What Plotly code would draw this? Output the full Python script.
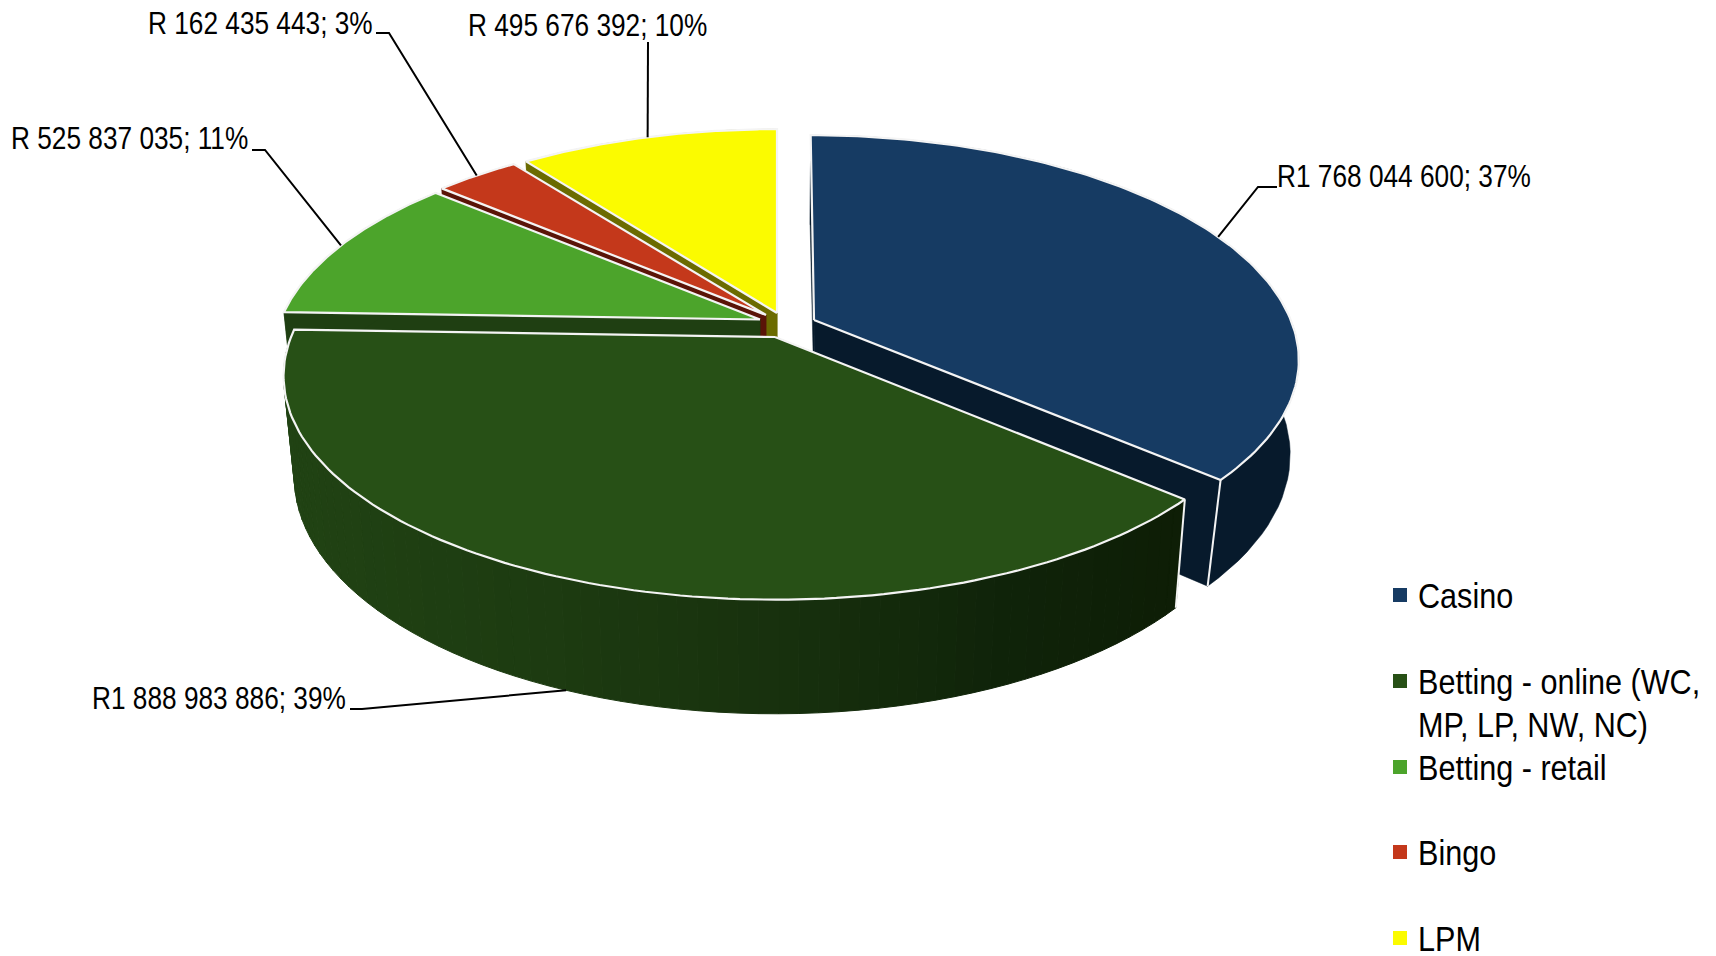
import numpy as np
import plotly.graph_objects as go

# ---- data ----
categories = ["Casino", "Betting - online (WC,<br>MP, LP, NW, NC)", "Betting - retail", "Bingo", "LPM"]
values = [1768044600, 1888983886, 525837035, 162435443, 495676392]
value_labels = ["R1 768 044 600; 37%", "R1 888 983 886; 39%", "R 525 837 035; 11%",
                "R 162 435 443; 3%", "R 495 676 392; 10%"]
top_colors = ["#163b63", "#275016", "#4ca42b", "#c4381b", "#fbfb00"]
wall_colors = ["#071a2c", "#1f3f12", "#1f3f12", "#5a1408", "#6b6b00"]

# ---- projection style (pixel space of the page) ----
W, H = 1716, 956
RX, RY, K, SHRINK, DEPTH = 484.0, 217.0, 0.174, 0.978, 99.0
apex = [(814, 320), (775, 337), (760, 319.5), (766, 315), (777, 313)]
radius_scale = [0.985, 1.0, 0.99, 0.99, 0.985]
back_stretch = [1.015, 1.0, 1.0, 1.0, 1.01]
draw_order = [4, 3, 2, 0, 1]
online_stops = [(285, "#214314"), (560, "#1d3b11"), (780, "#18310e"), (1000, "#10240a"), (1180, "#0e1e06")]
FONT = "Liberation Sans, Arial"
LABEL_SIZE, LEGEND_SIZE = 32, 36
LABEL_NARROW, LEGEND_NARROW = 0.82, 0.85
LEGEND_LINE = 43
EDGE = "#f4f4f4"
CASINO_TOP_SHEAR, CASINO_LOW_SHEAR = 0.018, 0.023

frac = np.array(values, dtype=float) / sum(values)
edges = np.concatenate([[0], np.cumsum(frac)]) * 2 * np.pi


def top(i, a):
    u, v = np.sin(a), -np.cos(a)
    w = 1 - K * v
    s = radius_scale[i]
    stretch = np.where(v < 0, back_stretch[i], 1.0)
    y = apex[i][1] + s * RY * v * stretch / w
    x = apex[i][0] + s * RX * u / w
    if i == 0:
        x = x + CASINO_TOP_SHEAR * (y - apex[i][1])
    return x, y


def low(i, a):
    u, v = np.sin(a), -np.cos(a)
    w = 1 - K * v
    shrink = SHRINK
    if i == 0:
        shrink = 0.986 - 0.033 * np.maximum(v, 0)
    s = radius_scale[i] * shrink
    y = apex[i][1] + (s * RY * v + DEPTH) / w
    x = apex[i][0] + s * RX * u / w
    if i == 0:
        x = x + CASINO_LOW_SHEAR * (y - apex[i][1] - DEPTH) + 0.6
    return x, y


def lerp_color(x):
    xs = [p[0] for p in online_stops]
    rgb = [[int(p[1][j:j + 2], 16) for p in online_stops] for j in (1, 3, 5)]
    return "rgb(%d,%d,%d)" % tuple(np.interp(x, xs, c) for c in rgb)


def poly(xs, ys, fill, line=None, width=0):
    return go.Scatter(x=list(xs), y=list(ys), mode="lines", fill="toself", fillcolor=fill,
                      line=dict(color=line or fill, width=width), hoverinfo="skip", showlegend=False)


fig = go.Figure()
for i in draw_order:
    a0, a1 = edges[i], edges[i + 1]
    ax, ay = apex[i]
    ax_low, ay_low = ax + (0.6 if i == 0 else 0), ay + DEPTH
    # radial faces
    for a in (a1, a0):
        t, b = top(i, a), low(i, a)
        fig.add_trace(poly([ax, t[0], b[0], ax_low, ax], [ay, t[1], b[1], ay_low, ay], wall_colors[i], width=0.5))
    # outer wall
    if i == 1:
        n = 70
        for k in range(n):
            a = np.array([a0 + (a1 - a0) * k / n, a0 + (a1 - a0) * (k + 1) / n])
            tx, ty = top(i, a)
            bx, by = low(i, a)
            col = lerp_color(tx.mean())
            fig.add_trace(poly([tx[0], tx[1], bx[1], bx[0], tx[0]], [ty[0], ty[1], by[1], by[0], ty[0]], col, width=1))
    else:
        a = np.linspace(a0, a1, 60)
        tx, ty = top(i, a)
        bx, by = low(i, a)
        col = "#071a2c" if i == 0 else wall_colors[i]
        fig.add_trace(poly(np.r_[tx, bx[::-1], tx[0]], np.r_[ty, by[::-1], ty[0]], col, width=0.5))
    # white vertical edge where two faces of the front wedges meet
    if i in (0, 1):
        a = a1 if i == 0 else a0
        t, b = top(i, a), low(i, a)
        fig.add_trace(go.Scatter(x=[t[0], b[0]], y=[t[1], b[1]], mode="lines",
                                 line=dict(color=EDGE, width=2), hoverinfo="skip", showlegend=False))
    # top surface
    a = np.linspace(a0, a1, 120)
    tx, ty = top(i, a)
    fig.add_trace(poly(np.r_[ax, tx, ax], np.r_[ay, ty, ay], top_colors[i], line=EDGE, width=2.2))

# ---- data labels and leader lines ----
label_left = [1277, 92, 11, 148, 468]
label_mid_y = [176, 698, 138, 23, 25]
elbows = [[(1258, 187), (1277, 187)], [(362, 709), (350, 709)], [(265, 150), (252, 150)],
          [(389, 33), (376, 33)], [(648, 42)]]
for i in range(5):
    mid = (edges[i] + edges[i + 1]) / 2
    p = low(i, mid) if i == 1 else top(i, mid)
    pts = [p] + elbows[i]
    fig.add_trace(go.Scatter(x=[q[0] for q in pts], y=[q[1] for q in pts], mode="lines",
                             line=dict(color="#000000", width=2), hoverinfo="skip", showlegend=False))
    fig.add_annotation(x=label_left[i], y=label_mid_y[i], text=value_labels[i], showarrow=False,
                       xanchor="left", yanchor="middle", xshift=-2,
                       font=dict(family=FONT, size=LABEL_SIZE, color="#000000"))

# ---- legend ----
legend_y = [595, 681, 767, 852, 938]
fig.add_trace(go.Scatter(x=[1400] * 5, y=legend_y, mode="markers", hoverinfo="skip", showlegend=False,
                         marker=dict(symbol="square", size=14, color=top_colors, line=dict(width=0))))
for i, name in enumerate(categories):
    for j, line_text in enumerate(name.split("<br>")):
        fig.add_annotation(x=1418, y=legend_y[i] + j * LEGEND_LINE, text=line_text, showarrow=False,
                           xanchor="left", yanchor="middle", align="left", xshift=-2,
                           font=dict(family=FONT, size=LEGEND_SIZE, color="#000000"))

fig.update_layout(width=W, height=H, margin=dict(l=0, r=0, t=0, b=0), autosize=False,
                  paper_bgcolor="#ffffff", plot_bgcolor="#ffffff", showlegend=False,
                  xaxis=dict(range=[0, W], visible=False, fixedrange=True),
                  yaxis=dict(range=[H, 0], visible=False, fixedrange=True))
css = (".annotation-text{transform-box:fill-box;transform-origin:0 50%%;transform:scaleX(%s);}"
       "text.annotation-text[style*='font-size: %dpx']{transform:scaleX(%s);}"
       % (LABEL_NARROW, LEGEND_SIZE, LEGEND_NARROW))
fig.write_html("out.html", config=dict(displayModeBar=False),
               post_script="document.body.style.margin='0';document.documentElement.style.overflow='hidden';"
                           "var s=document.createElement('style');s.textContent=%r;document.head.appendChild(s);" % css)
